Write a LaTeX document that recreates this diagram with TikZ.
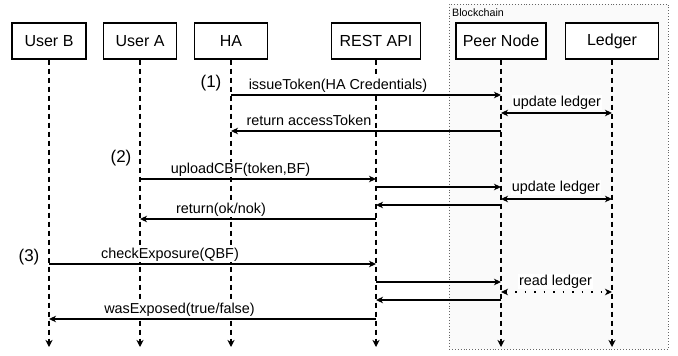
\documentclass[tikz,border=0pt]{standalone}
\usepackage{fontspec}
\setmainfont{Liberation Sans}
\usetikzlibrary{arrows.meta}

\tikzset{
  actor/.style={draw=black, line width=1.3pt, fill=white, rectangle, inner sep=0pt,
    minimum height=36pt, font=\fontsize{16}{19}\selectfont},
  lifeline/.style={line width=1.6pt, dash pattern=on 5pt off 4pt,
    -{Stealth[length=7pt,width=7pt,inset=2pt]}},
  msg/.style={line width=1.4pt, -{Stealth[length=7pt,width=6.5pt,inset=2pt]}},
  both/.style={line width=1.4pt, {Stealth[length=7pt,width=6.5pt,inset=2pt]}-{Stealth[length=7pt,width=6.5pt,inset=2pt]}},
  dotmsg/.style={both, dash pattern=on 1.5pt off 8pt},
  msglabel/.style={anchor=base, inner sep=0.6pt, fill=white, font=\fontsize{14.4}{17}\selectfont},
  steplabel/.style={anchor=center, inner sep=0pt, font=\fontsize{17}{20}\selectfont},
  region/.style={draw=black!60, fill=black!2, line width=0.9pt, dotted, rectangle, inner sep=0pt}
}

\begin{document}
\begin{tikzpicture}[x=1pt, y=-1pt]
\useasboundingbox (0,0) rectangle (678,356);

% blockchain group
\node[region, minimum width=219pt, minimum height=345pt] (bc) at (558.5,176.5) {};
\node[anchor=west, inner sep=0pt, font=\fontsize{10.7}{13}\selectfont] (bclabel) at (452,13) {Blockchain};

% participants
\node[actor, minimum width=74pt] (ub) at (49,41) {User B};
\node[actor, minimum width=73pt] (ua) at (140,41) {User A};
\node[actor, minimum width=73pt] (ha) at (231,41) {HA};
\node[actor, minimum width=89pt] (api) at (376,41) {REST API};
\node[actor, minimum width=90pt] (peer) at (501,41) {Peer Node};
\node[actor, minimum width=93pt] (led) at (612,41) {Ledger};

% lifelines
\foreach \p in {ub,ua,ha,api,peer,led}
  \draw[lifeline] (\p.south) -- (\p |- 0,347);

% step numbers
\node[steplabel] (s1) at (211,83) {(1)};
\node[steplabel] (s2) at (121,158) {(2)};
\node[steplabel] (s3) at (29,257) {(3)};

% (1) token issuance
\draw[msg] (ha |- 0,95) -- (peer |- 0,95);
\node[msglabel] (l1) at (338,89) {issueToken(HA Credentials)};
\draw[both] (peer |- 0,113) -- (led |- 0,113);
\node[msglabel] (l2) at (557,106) {update ledger};
\draw[msg] (peer |- 0,131) -- (ha |- 0,131);
\node[msglabel] (l3) at (309,125.5) {return accessToken};

% (2) upload
\draw[msg] (ua |- 0,179) -- (api |- 0,179);
\node[msglabel] (l4) at (240.5,173.5) {uploadCBF(token,BF)};
\draw[msg] (api |- 0,187) -- (peer |- 0,187);
\draw[both] (peer |- 0,199) -- (led |- 0,199);
\node[msglabel] (l5) at (556,191.5) {update ledger};
\draw[msg] (peer |- 0,205) -- (api |- 0,205);
\draw[msg] (api |- 0,219) -- (ua |- 0,219);
\node[msglabel] (l6) at (221,213.5) {return(ok/nok)};

% (3) exposure check
\draw[msg] (ub |- 0,264) -- (api |- 0,264);
\node[msglabel] (l7) at (170,258.5) {checkExposure(QBF)};
\draw[msg] (api |- 0,282) -- (peer |- 0,282);
\draw[dotmsg] (peer |- 0,292) -- (led |- 0,292);
\node[msglabel] (l8) at (555.5,285) {read ledger};
\draw[msg] (peer |- 0,300) -- (api |- 0,300);
\draw[msg] (api |- 0,319) -- (ub |- 0,319);
\node[msglabel] (l9) at (179.5,313.5) {wasExposed(true/false)};
\end{tikzpicture}
\end{document}
